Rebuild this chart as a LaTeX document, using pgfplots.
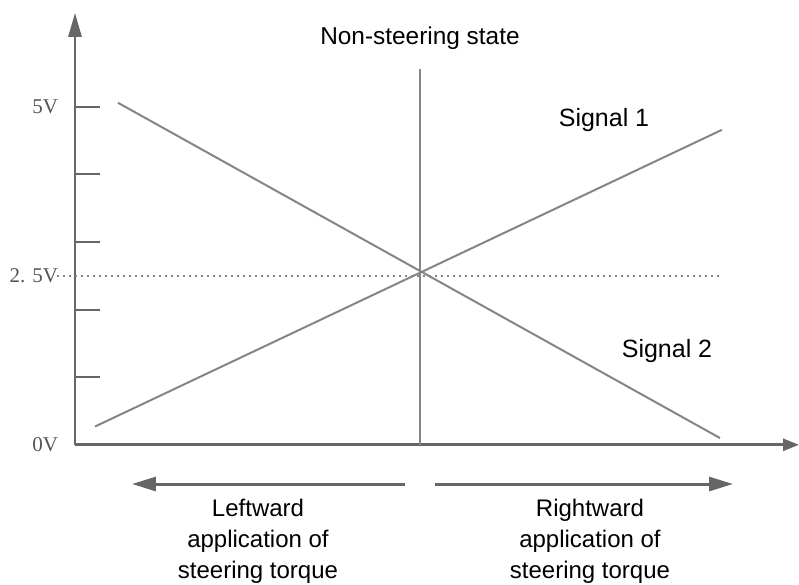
\documentclass[border=0pt]{standalone}
\usepackage{pgfplots}
\pgfplotsset{compat=1.18}
\usetikzlibrary{arrows.meta}
\usepackage{fontspec}
\setmainfont{Liberation Sans}
\newfontfamily\labelserif{Liberation Serif}
\definecolor{axisgray}{HTML}{666666}
\definecolor{linegray}{HTML}{858585}
\definecolor{labelgray}{HTML}{555555}
\definecolor{textblack}{HTML}{1A1A1A}

\begin{document}
\begin{tikzpicture}
\begin{axis}[
  x=50pt, y=33.8pt,
  xmin=-3.45, xmax=3.79, ymin=0, ymax=6.39,
  axis lines=left,
  x axis line style={draw=axisgray, line width=1.4pt, -{Triangle[length=8pt,width=6pt]}},
  y axis line style={draw=axisgray, line width=1.4pt, -{Triangle[length=12pt,width=6.5pt]}},
  xtick=\empty,
  ytick={0,1,2,3,4,5},
  yticklabels={0V,,,,,5V},
  extra y ticks={2.5},
  extra y tick labels={2. 5V},
  extra y tick style={major tick length=0pt},
  tick align=inside,
  major tick length=12.5pt,
  tick style={draw=axisgray, line width=1pt},
  yticklabel style={font=\labelserif\fontsize{10.5}{12}\selectfont, text=labelgray, xshift=-5pt},
  clip=false,
  every node/.append style={text=textblack},
]
% reference lines
\addplot[linegray, line width=1pt, dotted] coordinates {(-3.63,2.5) (3.0,2.5)};
\addplot[linegray, line width=1pt] coordinates {(0,0) (0,5.56)};
% Signal 1 and Signal 2
\addplot[linegray, line width=1pt] coordinates {(-3.25,0.27) (3.02,4.66)};
\addplot[linegray, line width=1pt] coordinates {(-3.02,5.06) (3.00,0.10)};

\node[font=\fontsize{12.2}{14}\selectfont] at (axis cs:0,6.02) {Non-steering state};
\node[font=\fontsize{12.5}{14}\selectfont] at (axis cs:1.84,4.81) {Signal 1};
\node[font=\fontsize{12.5}{14}\selectfont] at (axis cs:2.47,1.38) {Signal 2};

\draw[axisgray, line width=1.5pt, -{Triangle[length=12pt,width=7pt]}] (axis cs:-0.15,-0.58) -- (axis cs:-2.88,-0.58);
\draw[axisgray, line width=1.5pt, -{Triangle[length=12pt,width=7pt]}] (axis cs:0.15,-0.58) -- (axis cs:3.13,-0.58);

\node[align=center, font=\fontsize{12}{15.5}\selectfont] at (axis cs:-1.62,-1.42) {Leftward\\application of\\steering torque};
\node[align=center, font=\fontsize{12}{15.5}\selectfont] at (axis cs:1.70,-1.42) {Rightward\\application of\\steering torque};

\coordinate (bbA) at (axis cs:-4.20,6.58);
\coordinate (bbB) at (axis cs:3.79,-2.06);
\end{axis}
\pgfresetboundingbox
\path (bbA) rectangle (bbB);
\end{tikzpicture}
\end{document}
